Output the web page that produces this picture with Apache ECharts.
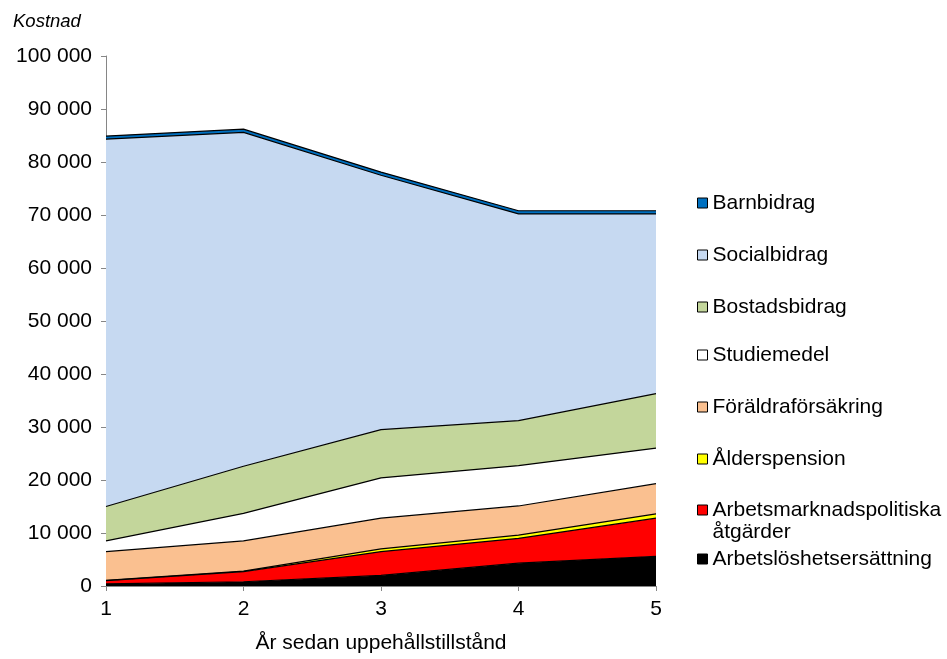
<!DOCTYPE html>
<html><head><meta charset="utf-8">
<script src="https://cdn.jsdelivr.net/npm/echarts@6/dist/echarts.min.js"></script>
<style>html,body{margin:0;padding:0;background:#fff}#c{width:947px;height:659px}</style>
</head><body><div id="c"></div>
<script>
const years = ['1', '2', '3', '4', '5'];
const arbetsloshet = [400, 800, 2000, 4300, 5600];
const arbetsmarknad = [600, 1900, 4500, 4700, 7200];
const alderspension = [50, 100, 500, 600, 800];
const foraldra = [5450, 5700, 5800, 5500, 5700];
const studiemedel = [2000, 5200, 7600, 7600, 6700];
const bostadsbidrag = [6500, 8900, 9100, 8500, 10300];
const socialbidrag = [69300, 63000, 48000, 39000, 33900];
const barnbidrag = [600, 600, 600, 600, 600];
const yTicks = [0, 100000, 10000];

const FONT = 'Liberation Sans, Arial, sans-serif';
const FS = 21;
const seriesDefs = [
  {name: 'Arbetslöshetsersättning', data: arbetsloshet, color: '#000000'},
  {name: 'Arbetsmarknadspolitiska\nåtgärder', data: arbetsmarknad, color: '#FF0000'},
  {name: 'Ålderspension', data: alderspension, color: '#FFFF00'},
  {name: 'Föräldraförsäkring', data: foraldra, color: '#FAC090'},
  {name: 'Studiemedel', data: studiemedel, color: '#FFFFFF'},
  {name: 'Bostadsbidrag', data: bostadsbidrag, color: '#C3D69B'},
  {name: 'Socialbidrag', data: socialbidrag, color: '#C6D9F1'},
  {name: 'Barnbidrag', data: barnbidrag, color: '#0070C0'}
];
const legendY = {
  'Barnbidrag': 204, 'Socialbidrag': 256, 'Bostadsbidrag': 308, 'Studiemedel': 356,
  'Föräldraförsäkring': 408, 'Ålderspension': 460, 'Arbetsmarknadspolitiska\nåtgärder': 511,
  'Arbetslöshetsersättning': 560
};
const LH = 22;
const legends = seriesDefs.map(s => {
  const multi = s.name.indexOf('\n') >= 0;
  return {
    data: [s.name], orient: 'vertical', left: 697,
    top: multi ? legendY[s.name] - LH * 1.5 - 1 : legendY[s.name] - LH / 2 - 1,
    padding: 0, itemWidth: 10, itemHeight: 10, itemGap: 0, icon: 'rect',
    selectedMode: false,
    formatter: name => multi ? '\n' + name : name,
    itemStyle: {borderColor: '#000', borderWidth: 1},
    textStyle: {fontFamily: FONT, fontSize: FS, color: '#000', lineHeight: LH}
  };
});
const chart = echarts.init(document.getElementById('c'), null, {renderer: 'canvas'});
chart.setOption({
  animation: false,
  title: {text: 'Kostnad', left: 8, top: 7,
    textStyle: {fontFamily: FONT, fontSize: 18.5, fontStyle: 'italic', fontWeight: 'normal', color: '#000'}},
  legend: legends,
  grid: {left: 106, right: 291, top: 56, bottom: 70},
  xAxis: {
    type: 'category', data: years, boundaryGap: false,
    name: 'År sedan uppehållstillstånd', nameLocation: 'middle', nameGap: 47,
    nameTextStyle: {fontFamily: FONT, fontSize: FS, color: '#000'},
    axisLine: {lineStyle: {color: '#868686', width: 1}},
    axisTick: {show: true, length: 5, lineStyle: {color: '#868686'}},
    axisLabel: {fontFamily: FONT, fontSize: FS, color: '#000', margin: 13},
    splitLine: {show: false}
  },
  yAxis: {
    type: 'value', min: yTicks[0], max: yTicks[1], interval: yTicks[2],
    axisLine: {show: true, lineStyle: {color: '#868686', width: 1}},
    axisTick: {show: true, length: 5, lineStyle: {color: '#868686'}},
    axisLabel: {fontFamily: FONT, fontSize: FS, color: '#000', margin: 14,
      formatter: v => String(v).replace(/\B(?=(\d{3})+(?!\d))/g, ' ')},
    splitLine: {show: false}
  },
  series: seriesDefs.map(s => ({
    name: s.name, type: 'line', stack: 'total', data: s.data,
    symbol: 'none', color: s.color,
    itemStyle: {color: s.color, borderColor: '#000'},
    lineStyle: {color: '#000', width: 1.2},
    areaStyle: {color: s.color, opacity: 1}
  }))
});
</script></body></html>
